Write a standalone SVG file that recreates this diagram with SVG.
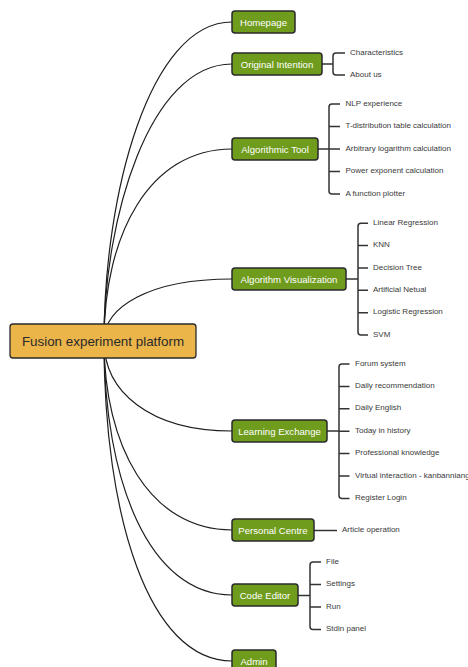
<svg xmlns="http://www.w3.org/2000/svg" width="468" height="667" viewBox="0 0 468 667">
<style>
.bg{fill:#ffffff}
.conn{fill:none;stroke:#1e1e1e;stroke-width:1.2}
.br{fill:none;stroke:#333333;stroke-width:1.5}
.root rect{fill:#ebb54a;stroke:#2a2a2a;stroke-width:1.3}
.root text{font-family:"Liberation Sans",Arial,sans-serif;font-size:13.4px;fill:#2a2a2a;text-anchor:middle;dominant-baseline:central}
.main rect{fill:#709c1e;stroke:#2a2a2a;stroke-width:1.5}
.main text{font-family:"Liberation Sans",Arial,sans-serif;font-size:9.6px;fill:#ffffff;text-anchor:middle;dominant-baseline:central}
.leaf{font-family:"Liberation Sans",Arial,sans-serif;font-size:8px;fill:#3a3a3a;dominant-baseline:central}
</style>
<rect class="bg" x="0" y="0" width="468" height="667"/>
<g id="connectors">
<path class="conn" d="M104,341 C104,195 149,22 232,22"/>
<path class="conn" d="M104,341 C104,219 149,64 232,64"/>
<path class="conn" d="M104,341 C104,235 149,149 232,149"/>
<path class="conn" d="M104,341 C104,307 149,279 232,279"/>
<path class="conn" d="M104,341 C104,391 149,431 232,431"/>
<path class="conn" d="M104,341 C104,445 149,530 232,530"/>
<path class="conn" d="M104,341 C104,481 149,595 232,595"/>
<path class="conn" d="M104,341 C104,517 149,661 232,661"/>
<!-- Original Intention bracket -->
<path class="br" d="M322,64 H333 M345,53 H336 Q333,53 333,56 V72 Q333,75 336,75 H345"/>
<!-- Algorithmic Tool bracket -->
<path class="br" d="M318,149 H329 M340,104 H332 Q329,104 329,107 V191 Q329,194 332,194 H340 M329,126.5 H340 M329,149 H340 M329,171.5 H340"/>
<!-- Algorithm Visualization bracket -->
<path class="br" d="M346,279 H358 M368,223.3 H361 Q358,223.3 358,226.3 V332 Q358,335 361,335 H368 M358,245.6 H368 M358,268 H368 M358,290.3 H368 M358,312.7 H368"/>
<!-- Learning Exchange bracket -->
<path class="br" d="M327,431 H339 M349.5,364 H342 Q339,364 339,367 V495.4 Q339,498.4 342,498.4 H349.5 M339,386.4 H349.5 M339,408.8 H349.5 M339,431.2 H349.5 M339,453.6 H349.5 M339,476 H349.5"/>
<!-- Personal Centre -->
<path class="br" d="M314,530.5 H337"/>
<!-- Code Editor bracket -->
<path class="br" d="M298,595.5 H310 M321,562 H313 Q310,562 310,565 V626.5 Q310,629.5 313,629.5 H321 M310,584.5 H321 M310,607 H321"/>
</g>
<g id="root" class="root">
<rect x="10" y="324" width="186" height="34" rx="3"/>
<text x="103" y="341">Fusion experiment platform</text>
</g>
<g id="homepage" class="main">
<rect x="232" y="11" width="63" height="22" rx="3"/>
<text x="263.5" y="22">Homepage</text>
</g>
<g id="original-intention" class="main">
<rect x="232" y="53" width="90" height="22" rx="3"/>
<text x="277" y="64">Original Intention</text>
</g>
<g id="algorithmic-tool" class="main">
<rect x="232" y="138" width="86" height="22" rx="3"/>
<text x="275" y="149">Algorithmic Tool</text>
</g>
<g id="algorithm-visualization" class="main">
<rect x="232" y="268" width="114" height="22" rx="3"/>
<text x="289" y="279">Algorithm Visualization</text>
</g>
<g id="learning-exchange" class="main">
<rect x="232" y="420" width="95" height="22" rx="3"/>
<text x="279.5" y="431">Learning Exchange</text>
</g>
<g id="personal-centre" class="main">
<rect x="232" y="519" width="82" height="22" rx="3"/>
<text x="273" y="530">Personal Centre</text>
</g>
<g id="code-editor" class="main">
<rect x="232" y="584" width="66" height="22" rx="3"/>
<text x="265" y="595">Code Editor</text>
</g>
<g id="admin" class="main">
<rect x="232" y="650" width="44" height="22" rx="3"/>
<text x="254" y="661">Admin</text>
</g>
<g id="leaves-original-intention">
<text class="leaf" x="350" y="52">Characteristics</text>
<text class="leaf" x="350" y="74">About us</text>
</g>
<g id="leaves-algorithmic-tool">
<text class="leaf" x="345.5" y="103">NLP experience</text>
<text class="leaf" x="345.5" y="125.5">T-distribution table calculation</text>
<text class="leaf" x="345.5" y="148">Arbitrary logarithm calculation</text>
<text class="leaf" x="345.5" y="170.5">Power exponent calculation</text>
<text class="leaf" x="345.5" y="193">A function plotter</text>
</g>
<g id="leaves-algorithm-visualization">
<text class="leaf" x="373" y="222.3">Linear Regression</text>
<text class="leaf" x="373" y="244.6">KNN</text>
<text class="leaf" x="373" y="267">Decision Tree</text>
<text class="leaf" x="373" y="289.3">Artificial Netual</text>
<text class="leaf" x="373" y="311.7">Logistic Regression</text>
<text class="leaf" x="373" y="334">SVM</text>
</g>
<g id="leaves-learning-exchange">
<text class="leaf" x="355" y="363">Forum system</text>
<text class="leaf" x="355" y="385.4">Daily recommendation</text>
<text class="leaf" x="355" y="407.8">Daily English</text>
<text class="leaf" x="355" y="430.2">Today in history</text>
<text class="leaf" x="355" y="452.6">Professional knowledge</text>
<text class="leaf" x="355" y="475">Virtual interaction - kanbanniang</text>
<text class="leaf" x="355" y="497.4">Register Login</text>
</g>
<g id="leaves-personal-centre">
<text class="leaf" x="342" y="529.3">Article operation</text>
</g>
<g id="leaves-code-editor">
<text class="leaf" x="326" y="561">File</text>
<text class="leaf" x="326" y="583.5">Settings</text>
<text class="leaf" x="326" y="606">Run</text>
<text class="leaf" x="326" y="628.5">Stdin panel</text>
</g>
</svg>
